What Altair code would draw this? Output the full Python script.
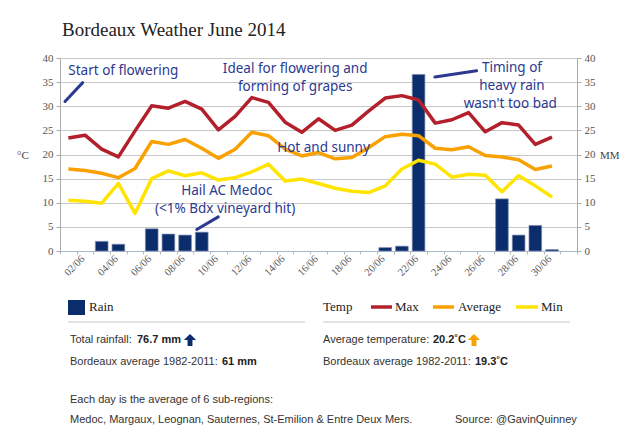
import altair as alt
import pandas as pd

# ---- daily values, June 2014 (average of six Bordeaux sub-regions) ----
days = list(range(1, 31))
rain_mm = [0, 0, 2.0, 1.4, 0, 4.6, 3.5, 3.3, 3.9, 0,
           0, 0, 0, 0, 0, 0, 0, 0, 0, 0.7,
           1.0, 36.6, 0, 0, 0, 0, 10.8, 3.3, 5.3, 0.3]
max_temp = [23.4, 24.0, 21.1, 19.5, 24.9, 30.1, 29.6, 31.0, 29.4, 25.1,
            27.9, 31.8, 30.8, 26.7, 24.6, 27.4, 25.0, 26.1, 29.0, 31.7,
            32.2, 31.3, 26.5, 27.2, 28.7, 24.7, 26.6, 26.1, 22.1, 23.6]
avg_temp = [17.0, 16.7, 16.1, 15.2, 17.1, 22.7, 22.1, 23.1, 21.3, 19.2,
            21.1, 24.6, 23.9, 21.1, 19.7, 20.4, 19.1, 19.4, 21.4, 23.7,
            24.2, 23.9, 21.3, 21.0, 21.6, 19.8, 19.5, 18.9, 16.9, 17.6]
min_temp = [10.5, 10.3, 9.9, 14.0, 7.8, 15.0, 16.6, 15.6, 16.2, 14.7,
            15.2, 16.4, 18.0, 14.5, 14.9, 14.0, 13.0, 12.4, 12.1, 13.5,
            17.0, 18.8, 18.0, 15.3, 15.9, 15.7, 12.3, 15.6, 13.5, 11.2]

series_names = ["Max", "Average", "Min"]
series_colors = ["#b3202c", "#f9a100", "#ffe400"]
rain_color = "#0c2d6b"
note_color = "#2b3990"
grid_color = "#c8c8c8"

# summary figures
total_rain = "76.7 mm"
avg_rain_ref = "61 mm"
avg_temperature = "20.2˚C"
avg_temp_ref = "19.3˚C"

# hand-written notes: text, day, temperature
notes_text = ["Start of flowering", "Ideal for flowering and", "forming of grapes",
              "Hot and sunny", "Hail AC Medoc", "(<1% Bdx vineyard hit)",
              "Timing of", "heavy rain", "wasn't too bad"]
notes_day = [4.3, 14.6, 14.6, 16.3, 10.5, 10.4, 27.6, 27.6, 27.5]
notes_temp = [37.4, 37.7, 33.9, 21.4, 12.5, 8.7, 38.0, 34.2, 30.4]

# pointer strokes: day/temp of both ends
ptr_day1 = [0.8, 8.7, 22.98]
ptr_temp1 = [31.0, 4.45, 36.05]
ptr_day2 = [1.86, 9.99, 25.48]
ptr_temp2 = [34.9, 7.07, 37.36]

# ---- tables ----
rain_df = pd.DataFrame({"day": days, "rain": rain_mm})
rain_df = rain_df[rain_df["rain"] > 0]
temp_df = pd.DataFrame({
    "day": days * 3,
    "series": [s for s in series_names for _ in days],
    "temp": max_temp + avg_temp + min_temp,
})
notes_df = pd.DataFrame({"text": notes_text, "day": notes_day, "temp": notes_temp})
ptr_df = pd.DataFrame({"d1": ptr_day1, "t1": ptr_temp1, "d2": ptr_day2, "t2": ptr_temp2})
one = pd.DataFrame({"k": [0]})

W, H = 517, 193
SERIF = "Liberation Serif"
SANS = "Liberation Sans, Arial, sans-serif"
HAND = "Noto Sans"
BODY = 11  # footer text size

x_scale = alt.Scale(domain=[0.5, 31.5], nice=False, zero=False)
y_scale = alt.Scale(domain=[0, 40], nice=False)

# ticks at day boundaries, labels on every other day (shifted to the day centre)
x_axis = alt.Axis(
    values=[b + 0.5 for b in range(32)],
    labelExpr="((datum.value + 0.5) % 2 == 0 && datum.value < 30) ? "
              "(((datum.value + 0.5) < 10 ? '0' : '') + (datum.value + 0.5) + '/06') : ''",
    labelOffset=6, labelAngle=-45, labelAlign="right", labelBaseline="middle",
    labelFont=SERIF, labelFontSize=10.5, labelColor="#555", labelPadding=3,
    tickSize=3, tickColor="#b0b8c4", domainColor="#a9bccf", grid=False,
    title=None, labelOverlap=False,
)
y_axis_left = alt.Axis(
    values=list(range(0, 41, 5)), orient="left", grid=True, gridColor=grid_color,
    domainColor="#aaaaaa", tickColor="#aaaaaa", tickSize=4, labelPadding=3,
    labelFont=SERIF, labelFontSize=11, labelColor="#555", title=None,
)
y_axis_right = alt.Axis(
    values=list(range(0, 41, 5)), orient="right", grid=False,
    domainColor="#aaaaaa", tickColor="#aaaaaa", tickSize=4, labelPadding=3,
    labelFont=SERIF, labelFontSize=11, labelColor="#555", title=None,
)

bars = alt.Chart(rain_df).transform_calculate(
    d0="datum.day - 0.38", d1="datum.day + 0.38"
).mark_bar(color=rain_color, stroke="#7d8db0", strokeWidth=0.7).encode(
    x=alt.X("d0:Q", scale=x_scale, axis=x_axis),
    x2="d1:Q",
    y=alt.Y("rain:Q", scale=y_scale, axis=y_axis_right),
    y2=alt.datum(0),
)

lines = alt.Chart(temp_df).mark_line(strokeWidth=3.5, strokeJoin="round").encode(
    x=alt.X("day:Q", scale=x_scale, axis=x_axis),
    y=alt.Y("temp:Q", scale=y_scale, axis=y_axis_left),
    color=alt.Color("series:N", scale=alt.Scale(domain=series_names, range=series_colors),
                    legend=None),
    detail="series:N",
)

notes = alt.Chart(notes_df).mark_text(
    font=HAND, fontSize=13.5, color=note_color, align="center", baseline="middle"
).encode(
    x=alt.X("day:Q", scale=x_scale, axis=x_axis),
    y=alt.Y("temp:Q", scale=y_scale, axis=None),
    text="text:N",
)

pointers = alt.Chart(ptr_df).mark_rule(
    color=note_color, strokeWidth=3, strokeCap="round"
).encode(
    x=alt.X("d1:Q", scale=x_scale, axis=x_axis),
    x2="d2:Q",
    y=alt.Y("t1:Q", scale=y_scale, axis=None),
    y2="t2:Q",
)


def label(text, x, y, size=BODY, font=SANS, weight="normal", color="#333",
          align="left", baseline="middle"):
    return alt.Chart(one).mark_text(
        text=text, font=font, fontSize=size, fontWeight=weight, color=color,
        align=align, baseline=baseline,
    ).encode(x=alt.value(x), y=alt.value(y))


def hline(x0, x1, y, color, width):
    return alt.Chart(one).mark_rule(color=color, strokeWidth=width).encode(
        x=alt.value(x0), x2=alt.value(x1), y=alt.value(y))


up_arrow = "M0,-1L1,0L0.4,0L0.4,1L-0.4,1L-0.4,0L-1,0Z"


def arrow(x, y, color):
    return alt.Chart(one).mark_point(
        shape=up_arrow, filled=True, color=color, size=150, opacity=1
    ).encode(x=alt.value(x), y=alt.value(y))


decor = [
    label("Bordeaux Weather June 2014", 2, -22, size=19, font=SERIF, color="#222",
          baseline="alphabetic"),
    label("°C", -43, 98, size=11, font=SERIF, color="#444"),
    label("MM", 540, 98, size=11, font=SERIF, color="#444"),
    # rain key
    alt.Chart(one).mark_rect(color=rain_color).encode(
        x=alt.value(8), x2=alt.value(25), y=alt.value(242), y2=alt.value(257)),
    label("Rain", 29, 249, size=13, font=SERIF, color="#222"),
    hline(8, 245, 264, grid_color, 1),
    # temperature key
    label("Temp", 263, 249, size=13, font=SERIF, color="#222"),
    hline(311, 332, 249, series_colors[0], 3.5),
    label("Max", 335, 249, size=13, font=SERIF, color="#222"),
    hline(373, 394, 249, series_colors[1], 3.5),
    label("Average", 398, 249, size=13, font=SERIF, color="#222"),
    hline(456, 478, 249, series_colors[2], 3.5),
    label("Min", 481, 249, size=13, font=SERIF, color="#222"),
    hline(263, 510, 264, grid_color, 1),
    # rain summary
    label("Total rainfall:", 10, 282),
    label(total_rain, 77, 282, weight="bold", color="#222"),
    arrow(130, 282, rain_color),
    label("Bordeaux average 1982-2011:", 10, 304),
    label(avg_rain_ref, 162, 304, weight="bold", color="#222"),
    # temperature summary
    label("Average temperature:", 263, 282),
    label(avg_temperature, 373, 282, weight="bold", color="#222"),
    arrow(414, 282, series_colors[1]),
    label("Bordeaux average 1982-2011:", 263, 304),
    label(avg_temp_ref, 415, 304, weight="bold", color="#222"),
    # footnotes
    label("Each day is the average of 6 sub-regions:", 10, 342),
    label("Medoc, Margaux, Leognan, Sauternes, St-Emilion & Entre Deux Mers.", 10, 362),
    label("Source: @GavinQuinney", 395, 362),
]

chart = alt.layer(bars, lines, notes, pointers, *decor).resolve_scale(
    y="independent"
).properties(
    width=W, height=H,
    autosize=alt.AutoSizeParams(type="none"),
    padding={"left": 60, "top": 58, "right": 53, "bottom": 194},
    background="white",
).configure_view(stroke=None)

chart.save("out.html", embed_options={"renderer": "svg", "actions": False})
